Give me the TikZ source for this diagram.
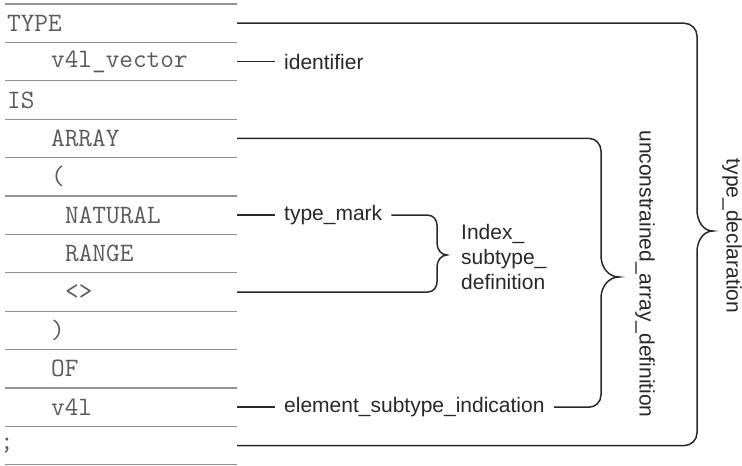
\documentclass[tikz,border=0pt]{standalone}
\usepackage{fontspec}
\setmainfont{Liberation Sans}
\usepackage{tikz}
\usetikzlibrary{positioning}
\usepackage{xcolor}
\definecolor{codegray}{RGB}{90,90,90}
\definecolor{rulegray}{RGB}{145,145,145}
\definecolor{inkdark}{RGB}{40,40,40}
\newcommand\codefont{\ttfamily\fontsize{26.5}{30}\selectfont}
\newcommand\labelfont{\rmfamily\fontsize{21}{25}\selectfont}

\begin{document}
\begin{tikzpicture}[x=1pt,y=-1pt,
  code/.style={font=\codefont,text=codegray,anchor=west,inner sep=0pt},
  lbl/.style={font=\labelfont,text=inkdark,inner sep=9pt},
  link/.style={draw=inkdark,line width=1.5pt}]
  \useasboundingbox (0,0) rectangle (742,466);
  \foreach \k in {0,...,12}
    \draw[rulegray,line width=1.2pt] (5,{4+38.4*\k}) -- (237,{4+38.4*\k});
  \foreach \i/\x/\t in {1/7/TYPE,2/51/v4l\_vector,3/7/IS,4/51/ARRAY,5/51/{(},6/65/NATURAL,7/65/RANGE,8/65/{<>},9/51/{)},10/51/OF,11/51/v4l,12/0/;}{
    \node[code] (r\i) at (\x,{4+38.4*(\i-0.5)}) {\t};
    \coordinate (e\i) at (237,{4+38.4*(\i-0.5)});
  }
  \node[lbl,right=38pt of e2] (ident) {identifier};
  \node[lbl,right=38pt of e6] (tmark) {type\_mark};
  \node[lbl,right=38pt of e11] (esi) {element\_subtype\_indication};
  \node[lbl,align=left,anchor=west,inner sep=0pt] (isd) at (461,257) {Index\_\\subtype\_\\definition};
  \node[lbl,rotate=-90,inner sep=0pt] (uad) at (645,274) {unconstrained\_array\_definition};
  \node[lbl,rotate=-90,inner sep=0pt] (tdecl) at (732,236) {type\_declaration};
  \draw[link] (e2) -- (ident);
  \draw[link] (e6) -- (tmark);
  \draw[link] (e11) -- (esi);
  \draw[link] (tmark.east) -- (428,215.2) to[out=0,in=90] (437,225) -- (437,243)
    to[out=-90,in=180] (447,255) to[out=180,in=90] (437,267) -- (437,282)
    to[out=-90,in=0] (428,292) -- (e8);
  \draw[link] (e4) -- (589,138.4) to[out=0,in=90] (601,151) -- (601,256)
    to[out=-90,in=180] (619,277) to[out=180,in=90] (601,298) -- (601,395)
    to[out=-90,in=0] (589,407.2) -- (esi);
  \draw[link] (e1) -- (684,23.2) to[out=0,in=90] (697,36) -- (697,210)
    to[out=-90,in=180] (713,231) to[out=180,in=90] (697,252) -- (697,433)
    to[out=-90,in=0] (684,445.6) -- (e12);
\end{tikzpicture}
\end{document}
